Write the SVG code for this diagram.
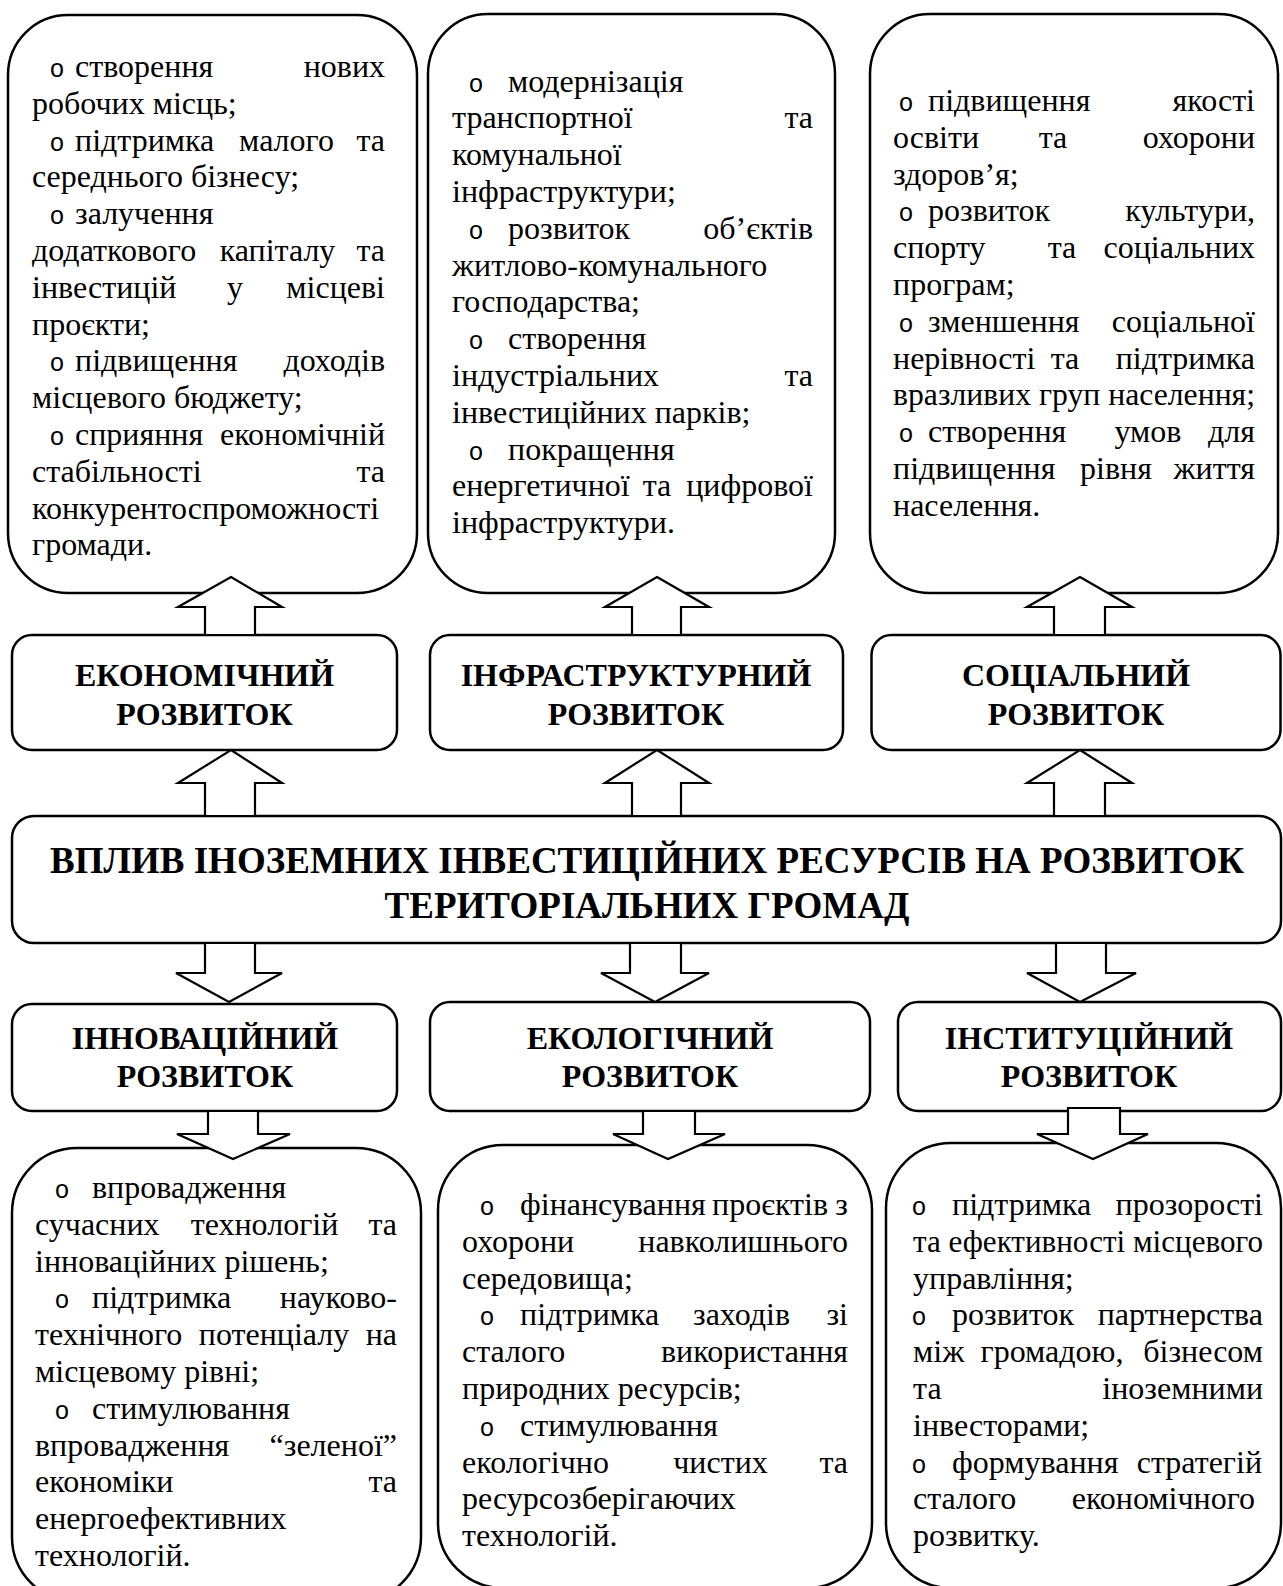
<svg xmlns="http://www.w3.org/2000/svg" width="1283" height="1586" viewBox="0 0 1283 1586">
<style>
.b{fill:#fff;stroke:#000;stroke-width:2.5}
.a{fill:#fff;stroke:#000;stroke-width:2.2;stroke-linejoin:miter}
.t{font-family:"Liberation Serif","Times New Roman",serif;font-size:32px;fill:#000}
.o{font-family:"Liberation Mono","Courier New",monospace;font-size:25px;fill:#000;text-anchor:middle}
.e{text-anchor:end}
.m{text-anchor:middle}
.h{font-family:"Liberation Serif","Times New Roman",serif;font-size:32px;font-weight:bold;fill:#000;text-anchor:middle}
.ti{font-family:"Liberation Serif","Times New Roman",serif;font-size:37px;font-weight:bold;fill:#000;text-anchor:middle}
</style>
<rect width="1283" height="1586" fill="#fff"/>

<g id="box-econ-effects">
<rect class="b" x="8" y="15" width="409" height="578" rx="60" ry="60"/>
<text class="o" x="57" y="77">o</text><text class="t" x="75" y="77">створення</text><text class="t e" x="385" y="77">нових</text>
<text class="t" x="32" y="113.8">робочих місць;</text>
<text class="o" x="57" y="150.6">o</text><text class="t" x="75" y="150.6">підтримка</text><text class="t m" x="286.5" y="150.6">малого</text><text class="t e" x="385" y="150.6">та</text>
<text class="t" x="32" y="187.4">середнього бізнесу;</text>
<text class="o" x="57" y="224.2">o</text><text class="t" x="75" y="224.2">залучення</text>
<text class="t" x="32" y="261">додаткового</text><text class="t m" x="277.5" y="261">капіталу</text><text class="t e" x="385" y="261">та</text>
<text class="t" x="32" y="297.8">інвестицій</text><text class="t m" x="235" y="297.8">у</text><text class="t e" x="385" y="297.8">місцеві</text>
<text class="t" x="32" y="334.6">проєкти;</text>
<text class="o" x="57" y="371.4">o</text><text class="t" x="75" y="371.4">підвищення</text><text class="t e" x="385" y="371.4">доходів</text>
<text class="t" x="32" y="408.2">місцевого бюджету;</text>
<text class="o" x="57" y="445">o</text><text class="t" x="75" y="445">сприяння</text><text class="t e" x="385" y="445">економічній</text>
<text class="t" x="32" y="481.8">стабільності</text><text class="t e" x="385" y="481.8">та</text>
<text class="t" x="32" y="518.6">конкурентоспроможності</text>
<text class="t" x="32" y="555.4">громади.</text>
</g>

<g id="box-infra-effects">
<rect class="b" x="428" y="14" width="407" height="579" rx="60" ry="60"/>
<text class="o" x="476" y="91.5">o</text><text class="t" x="508" y="91.5">модернізація</text>
<text class="t" x="452" y="128.3">транспортної</text><text class="t e" x="813" y="128.3">та</text>
<text class="t" x="452" y="165.1">комунальної</text>
<text class="t" x="452" y="201.9">інфраструктури;</text>
<text class="o" x="476" y="238.7">o</text><text class="t" x="508" y="238.7">розвиток</text><text class="t e" x="813" y="238.7">об’єктів</text>
<text class="t" x="452" y="275.5">житлово-комунального</text>
<text class="t" x="452" y="312.3">господарства;</text>
<text class="o" x="476" y="349.1">o</text><text class="t" x="508" y="349.1">створення</text>
<text class="t" x="452" y="385.9">індустріальних</text><text class="t e" x="813" y="385.9">та</text>
<text class="t" x="452" y="422.7">інвестиційних парків;</text>
<text class="o" x="476" y="459.5">o</text><text class="t" x="508" y="459.5">покращення</text>
<text class="t" x="452" y="496.3">енергетичної</text><text class="t m" x="657" y="496.3">та</text><text class="t e" x="813" y="496.3">цифрової</text>
<text class="t" x="452" y="533.1">інфраструктури.</text>
</g>

<g id="box-social-effects">
<rect class="b" x="870" y="14" width="408" height="579" rx="60" ry="60"/>
<text class="o" x="906" y="111">o</text><text class="t" x="928" y="111">підвищення</text><text class="t e" x="1255" y="111">якості</text>
<text class="t" x="893" y="147.8">освіти</text><text class="t m" x="1053" y="147.8">та</text><text class="t e" x="1255" y="147.8">охорони</text>
<text class="t" x="893" y="184.6">здоров’я;</text>
<text class="o" x="906" y="221.4">o</text><text class="t" x="928" y="221.4">розвиток</text><text class="t e" x="1255" y="221.4">культури,</text>
<text class="t" x="893" y="258.2">спорту</text><text class="t m" x="1062" y="258.2">та</text><text class="t e" x="1255" y="258.2">соціальних</text>
<text class="t" x="893" y="295">програм;</text>
<text class="o" x="906" y="331.8">o</text><text class="t" x="928" y="331.8">зменшення</text><text class="t e" x="1255" y="331.8">соціальної</text>
<text class="t" x="893" y="368.6">нерівності</text><text class="t m" x="1065" y="368.6">та</text><text class="t e" x="1255" y="368.6">підтримка</text>
<text class="t" x="893" y="405.4" textLength="362" lengthAdjust="spacingAndGlyphs">вразливих груп населення;</text>
<text class="o" x="906" y="442.2">o</text><text class="t" x="928" y="442.2">створення</text><text class="t m" x="1148" y="442.2">умов</text><text class="t e" x="1255" y="442.2">для</text>
<text class="t" x="893" y="479">підвищення</text><text class="t m" x="1116" y="479">рівня</text><text class="t e" x="1255" y="479">життя</text>
<text class="t" x="893" y="515.8">населення.</text>
</g>

<g id="hdr-econ">
<rect class="b" x="12" y="635" width="385" height="115" rx="20" ry="20"/>
<text class="h" x="204.5" y="686">ЕКОНОМІЧНИЙ</text>
<text class="h" x="204.5" y="725">РОЗВИТОК</text>
</g>
<g id="hdr-infra">
<rect class="b" x="430" y="635" width="413" height="115" rx="20" ry="20"/>
<text class="h" x="636" y="686">ІНФРАСТРУКТУРНИЙ</text>
<text class="h" x="636" y="725">РОЗВИТОК</text>
</g>
<g id="hdr-social">
<rect class="b" x="871.5" y="635" width="409" height="115" rx="20" ry="20"/>
<text class="h" x="1076" y="686">СОЦІАЛЬНИЙ</text>
<text class="h" x="1076" y="725">РОЗВИТОК</text>
</g>

<g id="main">
<rect class="b" x="12" y="816" width="1269" height="127" rx="22" ry="22"/>
<text class="ti" x="647" y="873">ВПЛИВ ІНОЗЕМНИХ ІНВЕСТИЦІЙНИХ РЕСУРСІВ НА РОЗВИТОК</text>
<text class="ti" x="647" y="918">ТЕРИТОРІАЛЬНИХ ГРОМАД</text>
</g>

<g id="hdr-innov">
<rect class="b" x="12" y="1004" width="385" height="107" rx="20" ry="20"/>
<text class="h" x="205" y="1049">ІННОВАЦІЙНИЙ</text>
<text class="h" x="205" y="1087">РОЗВИТОК</text>
</g>
<g id="hdr-eco">
<rect class="b" x="430" y="1002" width="440" height="109" rx="20" ry="20"/>
<text class="h" x="650" y="1049">ЕКОЛОГІЧНИЙ</text>
<text class="h" x="650" y="1087">РОЗВИТОК</text>
</g>
<g id="hdr-inst">
<rect class="b" x="898" y="1002" width="383" height="109" rx="20" ry="20"/>
<text class="h" x="1089" y="1049">ІНСТИТУЦІЙНИЙ</text>
<text class="h" x="1089" y="1087">РОЗВИТОК</text>
</g>

<g id="box-innov-effects">
<rect class="b" x="12" y="1148" width="409" height="454" rx="65" ry="65"/>
<text class="o" x="62" y="1198">o</text><text class="t" x="92" y="1198">впровадження</text>
<text class="t" x="35" y="1234.8">сучасних</text><text class="t m" x="264.5" y="1234.8">технологій</text><text class="t e" x="397" y="1234.8">та</text>
<text class="t" x="35" y="1271.6">інноваційних рішень;</text>
<text class="o" x="62" y="1308.4">o</text><text class="t" x="92" y="1308.4">підтримка</text><text class="t e" x="397" y="1308.4">науково-</text>
<text class="t" x="35" y="1345.2">технічного</text><text class="t m" x="274" y="1345.2">потенціалу</text><text class="t e" x="397" y="1345.2">на</text>
<text class="t" x="35" y="1382">місцевому рівні;</text>
<text class="o" x="62" y="1418.8">o</text><text class="t" x="92" y="1418.8">стимулювання</text>
<text class="t" x="35" y="1455.6">впровадження</text><text class="t e" x="397" y="1455.6">“зеленої”</text>
<text class="t" x="35" y="1492.4">економіки</text><text class="t e" x="397" y="1492.4">та</text>
<text class="t" x="35" y="1529.2">енергоефективних</text>
<text class="t" x="35" y="1566">технологій.</text>
</g>

<g id="box-eco-effects">
<rect class="b" x="438" y="1145" width="434" height="443" rx="65" ry="65"/>
<text class="o" x="487" y="1215">o</text><text class="t" x="520" y="1215">фінансування</text><text class="t m" x="770" y="1215">проєктів</text><text class="t e" x="848" y="1215">з</text>
<text class="t" x="462" y="1251.8">охорони</text><text class="t e" x="848" y="1251.8">навколишнього</text>
<text class="t" x="462" y="1288.6">середовища;</text>
<text class="o" x="487" y="1325.4">o</text><text class="t" x="520" y="1325.4">підтримка</text><text class="t m" x="741.5" y="1325.4">заходів</text><text class="t e" x="848" y="1325.4">зі</text>
<text class="t" x="462" y="1362.2">сталого</text><text class="t e" x="848" y="1362.2">використання</text>
<text class="t" x="462" y="1399">природних ресурсів;</text>
<text class="o" x="487" y="1435.8">o</text><text class="t" x="520" y="1435.8">стимулювання</text>
<text class="t" x="462" y="1472.6">екологічно</text><text class="t m" x="720.5" y="1472.6">чистих</text><text class="t e" x="848" y="1472.6">та</text>
<text class="t" x="462" y="1509.4">ресурсозберігаючих</text>
<text class="t" x="462" y="1546.2">технологій.</text>
</g>

<g id="box-inst-effects">
<rect class="b" x="886" y="1143" width="395" height="445" rx="65" ry="65"/>
<text class="o" x="919" y="1215">o</text><text class="t" x="952" y="1215">підтримка</text><text class="t e" x="1263" y="1215">прозорості</text>
<text class="t" x="913" y="1251.8" textLength="350" lengthAdjust="spacingAndGlyphs">та ефективності місцевого</text>
<text class="t" x="913" y="1288.6">управління;</text>
<text class="o" x="919" y="1325.4">o</text><text class="t" x="952" y="1325.4">розвиток</text><text class="t e" x="1263" y="1325.4">партнерства</text>
<text class="t" x="913" y="1362.2">між</text><text class="t m" x="1052" y="1362.2">громадою,</text><text class="t e" x="1263" y="1362.2">бізнесом</text>
<text class="t" x="913" y="1399">та</text><text class="t e" x="1263" y="1399">іноземними</text>
<text class="t" x="913" y="1435.8">інвесторами;</text>
<text class="o" x="919" y="1472.6">o</text><text class="t" x="952" y="1472.6">формування</text><text class="t e" x="1262" y="1472.6">стратегій</text>
<text class="t" x="913" y="1509.4">сталого</text><text class="t e" x="1255" y="1509.4">економічного</text>
<text class="t" x="913" y="1546.2">розвитку.</text>
</g>

<g id="connectors">
<polygon class="a" points="231,577 282,607 255,607 255,635 205,635 205,607 178,607"/>
<polygon class="a" points="657,577 709,607 681,607 681,635 632,635 632,607 605,607"/>
<polygon class="a" points="1080,577 1132,607 1105,607 1105,635 1054,635 1054,607 1027,607"/>
<polygon class="a" points="231,750 282,783 255,783 255,816 205,816 205,783 178,783"/>
<polygon class="a" points="657,750 709,783 681,783 681,816 632,816 632,783 605,783"/>
<polygon class="a" points="1080,750 1132,783 1105,783 1105,816 1054,816 1054,783 1027,783"/>
<polygon class="a" points="205,943 255,943 255,973 282,973 229,1002 176,973 205,973"/>
<polygon class="a" points="630,943 681,943 681,973 709,973 655,1002 601,973 630,973"/>
<polygon class="a" points="1056,943 1106,943 1106,973 1136,973 1080,1002 1027,973 1056,973"/>
<polygon class="a" points="208,1111 258,1111 258,1134 290,1134 233,1159 177,1134 208,1134"/>
<polygon class="a" points="643,1111 695,1111 695,1134 725,1134 668,1159 613,1134 643,1134"/>
<polygon class="a" points="1068,1108 1120,1108 1120,1134 1148,1134 1093,1159 1037,1134 1068,1134"/>
</g>
</svg>
